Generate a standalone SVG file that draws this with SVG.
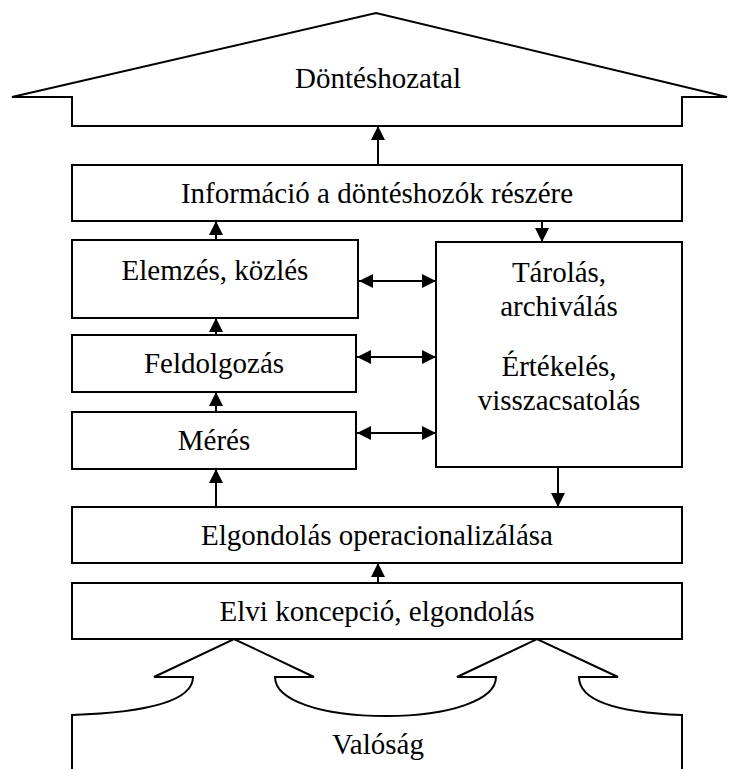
<svg xmlns="http://www.w3.org/2000/svg" width="729" height="769" viewBox="0 0 729 769">
<style>
.b{fill:#fff;stroke:#000;stroke-width:2}
.o{fill:none;stroke:#000;stroke-width:2}
.c{stroke:#000;stroke-width:2;fill:none}
text{font-family:"Liberation Serif","Times New Roman",serif;font-size:29px;fill:#000;text-anchor:middle}
</style>
<defs>
<marker id="ah" markerUnits="userSpaceOnUse" markerWidth="14" markerHeight="14" refX="14" refY="7" orient="auto-start-reverse" viewBox="0 0 14 14">
<path d="M0,0 L14,7 L0,14 Z" fill="#000"/>
</marker>
</defs>
<rect width="729" height="769" fill="#fff"/>
<g id="dontes">
<path class="b" d="M12,97 L376,13 L727,97 L682,97 L682,126 L72,126 L72,97 Z"/>
<text x="378" y="88">Döntéshozatal</text>
</g>
<g id="informacio">
<rect class="b" x="72" y="165" width="610" height="56"/>
<text x="377" y="203">Információ a döntéshozók részére</text>
</g>
<g id="elemzes">
<rect class="b" x="72" y="240" width="286" height="78"/>
<text x="215" y="280">Elemzés, közlés</text>
</g>
<g id="feldolgozas">
<rect class="b" x="72" y="335" width="284" height="57"/>
<text x="214" y="373">Feldolgozás</text>
</g>
<g id="meres">
<rect class="b" x="72" y="412" width="284" height="57"/>
<text x="214" y="450">Mérés</text>
</g>
<g id="tarolas">
<rect class="b" x="436" y="242" width="246" height="225"/>
<text x="559" y="282">Tárolás,</text>
<text x="559" y="316">archiválás</text>
<text x="559" y="376">Értékelés,</text>
<text x="559" y="410">visszacsatolás</text>
</g>
<g id="operacionalizalas">
<rect class="b" x="72" y="507" width="610" height="56"/>
<text x="377" y="545">Elgondolás operacionalizálása</text>
</g>
<g id="elvi">
<rect class="b" x="72" y="583" width="610" height="56"/>
<text x="377" y="621">Elvi koncepció, elgondolás</text>
</g>
<g id="valosag">
<path class="o" d="M72,769 L72,715 C130,713 193,705 193,677 L154,677 L234,639 L314,677 L275,677 C275,700 320,716 386,716 C450,716 496,700 496,677 L457,677 L537,639 L618,677 L579,677 C579,705 630,713 682,715 L682,769"/>
<text x="378" y="754">Valóság</text>
</g>
<g id="connectors">
<line class="c" x1="378" y1="165" x2="378" y2="126" marker-end="url(#ah)"/>
<line class="c" x1="216" y1="240" x2="216" y2="221" marker-end="url(#ah)"/>
<line class="c" x1="542" y1="221" x2="542" y2="242" marker-end="url(#ah)"/>
<line class="c" x1="216" y1="335" x2="216" y2="318" marker-end="url(#ah)"/>
<line class="c" x1="216" y1="412" x2="216" y2="392" marker-end="url(#ah)"/>
<line class="c" x1="216" y1="507" x2="216" y2="469" marker-end="url(#ah)"/>
<line class="c" x1="558" y1="467" x2="558" y2="507" marker-end="url(#ah)"/>
<line class="c" x1="378" y1="583" x2="378" y2="563" marker-end="url(#ah)"/>
<line class="c" x1="359" y1="281" x2="436" y2="281" marker-start="url(#ah)" marker-end="url(#ah)"/>
<line class="c" x1="357" y1="357" x2="436" y2="357" marker-start="url(#ah)" marker-end="url(#ah)"/>
<line class="c" x1="357" y1="433" x2="436" y2="433" marker-start="url(#ah)" marker-end="url(#ah)"/>
</g>
</svg>
